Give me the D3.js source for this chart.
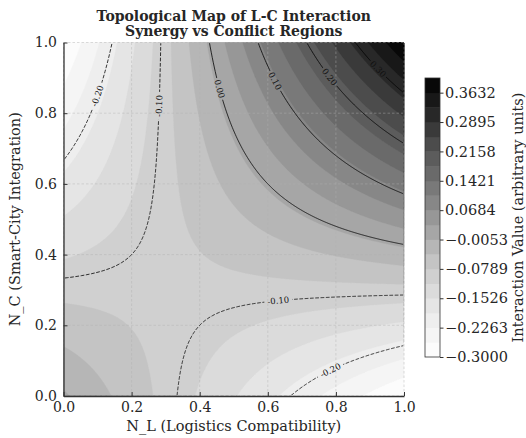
<!DOCTYPE html>
<html>
<head>
<meta charset="utf-8">
<script src="https://cdn.jsdelivr.net/npm/d3@7"></script>
<style>
body { margin: 0; background: #fff; }
svg text { font-family: "DejaVu Serif", serif; fill: #262626; }
</style>
</head>
<body>
<div id="chart"></div>
<script>
// interaction values every 0.1, rows go N_C = 0.0 .. 1.0, columns N_L = 0.0 .. 1.0
const gridStep = 0.1
const interaction = [
  [ 0.00, -0.03, -0.06, -0.09, -0.12, -0.15, -0.18, -0.21, -0.24, -0.27, -0.30],
  [-0.03, -0.05, -0.07, -0.09, -0.11, -0.13, -0.15, -0.17, -0.19, -0.21, -0.23],
  [-0.06, -0.07, -0.08, -0.09, -0.10, -0.11, -0.12, -0.13, -0.14, -0.15, -0.16],
  [-0.09, -0.09, -0.09, -0.09, -0.09, -0.09, -0.09, -0.09, -0.09, -0.09, -0.09],
  [-0.12, -0.11, -0.10, -0.09, -0.08, -0.07, -0.06, -0.05, -0.04, -0.03, -0.02],
  [-0.15, -0.13, -0.11, -0.09, -0.07, -0.05, -0.03, -0.01,  0.01,  0.03,  0.05],
  [-0.18, -0.15, -0.12, -0.09, -0.06, -0.03,  0.00,  0.03,  0.06,  0.09,  0.12],
  [-0.21, -0.17, -0.13, -0.09, -0.05, -0.01,  0.03,  0.07,  0.11,  0.15,  0.19],
  [-0.24, -0.19, -0.14, -0.09, -0.04,  0.01,  0.06,  0.11,  0.16,  0.21,  0.26],
  [-0.27, -0.21, -0.15, -0.09, -0.03,  0.03,  0.09,  0.15,  0.21,  0.27,  0.33],
  [-0.30, -0.23, -0.16, -0.09, -0.02,  0.05,  0.12,  0.19,  0.26,  0.33,  0.40]
]

const fillLevels = [-0.3000, -0.2632, -0.2263, -0.1895, -0.1526, -0.1158, -0.0789, -0.0421, -0.0053, 0.0316,
                    0.0684, 0.1053, 0.1421, 0.1789, 0.2158, 0.2526, 0.2895, 0.3263, 0.3632, 0.4000]
const lineLevels = [-0.2, -0.1, 0.0, 0.1, 0.2, 0.3]
const colorbarTicks = [-0.3000, -0.2263, -0.1526, -0.0789, -0.0053, 0.0684, 0.1421, 0.2158, 0.2895, 0.3632]
const axisTicks = [0.0, 0.2, 0.4, 0.6, 0.8, 1.0]

// where the inline labels sit (N_L, N_C)
const labelSpots = [
  {level: -0.2, nl: 0.10, nc: 0.85},
  {level: -0.1, nl: 0.28, nc: 0.82},
  {level:  0.0, nl: 0.46, nc: 0.87},
  {level:  0.1, nl: 0.62, nc: 0.89},
  {level:  0.2, nl: 0.78, nc: 0.90},
  {level:  0.3, nl: 0.93, nc: 0.93},
  {level: -0.1, nl: 0.63, nc: 0.27},
  {level: -0.2, nl: 0.785, nc: 0.07}
]

const W = 526, H = 438
const plot = {left: 63.5, right: 404, top: 42.5, bottom: 396}
const cbar = {left: 425, right: 440, top: 78, bottom: 357}
const fontSize = '14px', labelFont = '14.5px'

const x = d3.scaleLinear().domain([0, 1]).range([plot.left, plot.right])
const y = d3.scaleLinear().domain([0, 1]).range([plot.bottom, plot.top])
const vmin = fillLevels[0], vmax = fillLevels[fillLevels.length - 1]
const shade = v => d3.interpolateGreys((v - vmin) / (vmax - vmin))
const bandColor = k => shade((fillLevels[k] + fillLevels[k + 1]) / 2)

// bilinear lookup between the read grid points
function valueAt(nl, nc) {
  let n = interaction.length - 1
  let fx = nl / gridStep, fy = nc / gridStep
  let i = Math.min(Math.floor(fx), n - 1), j = Math.min(Math.floor(fy), n - 1)
  let tx = fx - i, ty = fy - j
  let a = interaction[j][i], b = interaction[j][i + 1]
  let c = interaction[j + 1][i], d = interaction[j + 1][i + 1]
  return (a * (1 - tx) + b * tx) * (1 - ty) + (c * (1 - tx) + d * tx) * ty
}

const nx = 340, ny = 354
const values = new Float64Array(nx * ny)
for (let j = 0; j < ny; j++) {
  for (let i = 0; i < nx; i++) {
    values[j * nx + i] = valueAt((i + 0.5) / nx, 1 - (j + 0.5) / ny)
  }
}

const toPx = (cx, cy) => [plot.left + cx * (plot.right - plot.left) / nx, plot.top + cy * (plot.bottom - plot.top) / ny]
const path = d3.geoPath(d3.geoTransform({
  point: function (cx, cy) {
    let p = toPx(cx, cy)
    this.stream.point(p[0], p[1])
  }
}))

const svg = d3.select('#chart').append('svg')
  .attr('width', W)
  .attr('height', H)

const defs = svg.append('defs')
defs.append('clipPath').attr('id', 'plotClip')
  .append('rect')
  .attr('x', plot.left + 0.8).attr('y', plot.top + 0.8)
  .attr('width', plot.right - plot.left - 1.6).attr('height', plot.bottom - plot.top - 1.6)

// filled bands
const bands = d3.contours().size([nx, ny]).thresholds(fillLevels.slice(0, -1))(values)
const fillG = svg.append('g').attr('class', 'bands')
fillG.append('rect')
  .attr('x', plot.left).attr('y', plot.top)
  .attr('width', plot.right - plot.left).attr('height', plot.bottom - plot.top)
  .attr('fill', bandColor(0))
fillG.selectAll('path')
  .data(bands)
  .enter().append('path')
  .attr('d', path)
  .attr('fill', (d, k) => bandColor(k))
  .attr('stroke', (d, k) => bandColor(k))
  .attr('stroke-width', 0.3)

// grid
const gridG = svg.append('g').attr('class', 'grid')
  .attr('stroke', '#b0b0b0').attr('stroke-opacity', 0.55)
  .attr('stroke-width', 0.8).attr('stroke-dasharray', '2.5,2')
gridG.selectAll('.gx').data(axisTicks).enter().append('line')
  .attr('x1', d => x(d)).attr('x2', d => x(d))
  .attr('y1', plot.top).attr('y2', plot.bottom)
gridG.selectAll('.gy').data(axisTicks).enter().append('line')
  .attr('x1', plot.left).attr('x2', plot.right)
  .attr('y1', d => y(d)).attr('y2', d => y(d))

// contour lines and inline labels
const lineContours = lineLevels.map(v => d3.contours().size([nx, ny]).contour(values, v))
const labelSize = 8.5
const labels = []
labelSpots.forEach(spot => {
  let cont = lineContours[lineLevels.indexOf(spot.level)]
  let target = [x(spot.nl), y(spot.nc)]
  let best = null
  cont.coordinates.forEach(poly => poly.forEach(ring => {
    let pts = ring.map(p => toPx(p[0], p[1]))
    pts.forEach((p, idx) => {
      let dd = (p[0] - target[0]) ** 2 + (p[1] - target[1]) ** 2
      if (!best || dd < best.dd) best = {dd: dd, pts: pts, idx: idx}
    })
  }))
  if (!best) return
  let n = best.pts.length
  let p0 = best.pts[(best.idx - 4 + n) % n], p1 = best.pts[(best.idx + 4) % n]
  let ang = Math.atan2(p1[1] - p0[1], p1[0] - p0[0]) * 180 / Math.PI
  if (ang > 90) ang -= 180
  if (ang <= -90) ang += 180
  labels.push({
    text: spot.level.toFixed(2),
    x: best.pts[best.idx][0],
    y: best.pts[best.idx][1],
    angle: ang
  })
})

const mask = defs.append('mask').attr('id', 'labelGaps')
  .attr('maskUnits', 'userSpaceOnUse')
  .attr('x', 0).attr('y', 0).attr('width', W).attr('height', H)
mask.append('rect').attr('width', W).attr('height', H).attr('fill', 'white')
mask.selectAll('.gap').data(labels).enter().append('rect')
  .attr('x', d => -d.text.length * labelSize * 0.33)
  .attr('y', -labelSize * 0.45)
  .attr('width', d => d.text.length * labelSize * 0.66)
  .attr('height', labelSize * 0.9)
  .attr('fill', 'black')
  .attr('transform', d => 'translate(' + [d.x, d.y] + ') rotate(' + d.angle + ')')

svg.append('g')
  .attr('clip-path', 'url(#plotClip)')
  .append('g')
  .attr('mask', 'url(#labelGaps)')
  .selectAll('path')
  .data(lineContours)
  .enter().append('path')
  .attr('d', path)
  .attr('fill', 'none')
  .attr('stroke', '#000')
  .attr('stroke-width', 0.8)
  .attr('stroke-dasharray', d => d.value < 0 ? '3.7,1.6' : null)

svg.append('g').attr('class', 'clabels')
  .selectAll('text')
  .data(labels)
  .enter().append('text')
  .attr('transform', d => 'translate(' + [d.x, d.y] + ') rotate(' + d.angle + ')')
  .attr('text-anchor', 'middle')
  .attr('dy', '0.35em')
  .style('font-size', labelSize + 'px')
  .style('fill', '#111')
  .text(d => d.text)

// axes: only left and bottom spines, ticks pointing in
const fmt1 = d3.format('.1f')
const axisG = svg.append('g').attr('class', 'axes')
axisG.append('g')
  .attr('transform', 'translate(0,' + plot.bottom + ')')
  .call(d3.axisBottom(x).tickValues(axisTicks).tickFormat(fmt1).tickSizeInner(-4).tickSizeOuter(0).tickPadding(6))
axisG.append('g')
  .attr('transform', 'translate(' + plot.left + ',0)')
  .call(d3.axisLeft(y).tickValues(axisTicks).tickFormat(fmt1).tickSizeInner(-4).tickSizeOuter(0).tickPadding(6.5))
axisG.selectAll('.domain').attr('stroke', '#333').attr('stroke-width', 1.3)
axisG.selectAll('.tick line').attr('stroke', '#333').attr('stroke-width', 1)
axisG.selectAll('.tick text')
  .attr('font-family', null)
  .style('font-size', fontSize)
  .style('fill', '#262626')

// titles
svg.append('text')
  .attr('x', (plot.left + plot.right) / 2).attr('y', 21)
  .attr('text-anchor', 'middle')
  .style('font-size', fontSize).style('font-weight', 'bold')
  .text('Topological Map of L-C Interaction')
svg.append('text')
  .attr('x', (plot.left + plot.right) / 2).attr('y', 36)
  .attr('text-anchor', 'middle')
  .style('font-size', fontSize).style('font-weight', 'bold')
  .text('Synergy vs Conflict Regions')
svg.append('text')
  .attr('x', (plot.left + plot.right) / 2).attr('y', 431)
  .attr('text-anchor', 'middle')
  .style('font-size', labelFont)
  .text('N_L (Logistics Compatibility)')
svg.append('text')
  .attr('transform', 'translate(20,' + (plot.top + plot.bottom) / 2 + ') rotate(-90)')
  .attr('text-anchor', 'middle')
  .style('font-size', labelFont)
  .text('N_C (Smart-City Integration)')

// colorbar
const cy = d3.scaleLinear().domain([vmin, vmax]).range([cbar.bottom, cbar.top])
const cbG = svg.append('g').attr('class', 'colorbar')
cbG.selectAll('rect.band')
  .data(d3.range(fillLevels.length - 1))
  .enter().append('rect')
  .attr('class', 'band')
  .attr('x', cbar.left)
  .attr('width', cbar.right - cbar.left)
  .attr('y', k => cy(fillLevels[k + 1]))
  .attr('height', k => cy(fillLevels[k]) - cy(fillLevels[k + 1]) + 0.4)
  .attr('fill', k => bandColor(k))
cbG.append('rect')
  .attr('x', cbar.left).attr('y', cbar.top)
  .attr('width', cbar.right - cbar.left).attr('height', cbar.bottom - cbar.top)
  .attr('fill', 'none').attr('stroke', '#333').attr('stroke-width', 0.8)
cbG.append('g')
  .attr('transform', 'translate(' + cbar.right + ',0)')
  .call(d3.axisRight(cy).tickValues(colorbarTicks).tickFormat(d3.format('.4f')).tickSize(3.5).tickPadding(1.5))
  .call(g => g.select('.domain').remove())
  .call(g => g.selectAll('.tick line').attr('stroke', '#333'))
  .call(g => g.selectAll('.tick text').attr('font-family', null).style('font-size', labelFont).style('fill', '#262626'))
svg.append('text')
  .attr('transform', 'translate(523,' + (cbar.top + cbar.bottom) / 2 + ') rotate(-90)')
  .attr('text-anchor', 'middle')
  .style('font-size', labelFont)
  .text('Interaction Value (arbitrary units)')
</script>
</body>
</html>
